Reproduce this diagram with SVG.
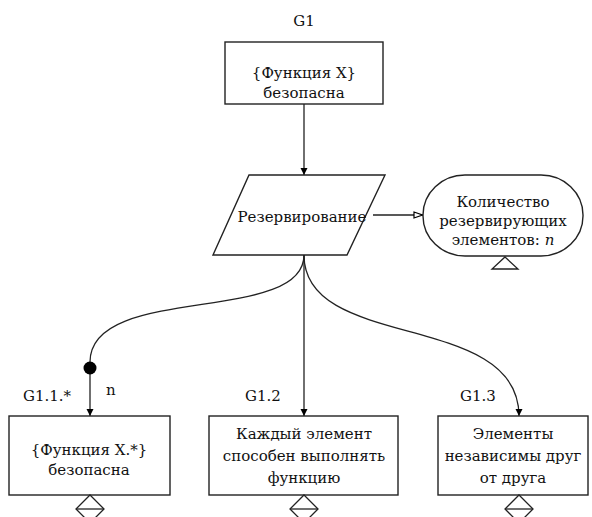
<svg xmlns="http://www.w3.org/2000/svg" width="592" height="517" viewBox="0 0 592 517">
  <defs>
    <marker id="arrow" viewBox="0 0 10 10" refX="10" refY="5" markerWidth="7" markerHeight="8" markerUnits="userSpaceOnUse" orient="auto">
      <path d="M0,0 L10,5 L0,10 Z" fill="#000"/>
    </marker>
    <marker id="open-arrow" viewBox="0 0 10 8" refX="10" refY="4" markerWidth="10" markerHeight="8" markerUnits="userSpaceOnUse" orient="auto">
      <path d="M1,1 L9.5,4 L1,7 Z" fill="#fff" stroke="#000" stroke-width="1.2"/>
    </marker>
  </defs>
  <style>
    .c { text-anchor: middle; }
    .shape { fill: #fff; stroke: #222; stroke-width: 1.4; }
    .edge { fill: none; stroke: #222; stroke-width: 1.3; }
    .deco { fill: #fff; stroke: #222; stroke-width: 1.3; }
  </style>
  <rect width="592" height="517" fill="#fff"/>

  <g font-family="'DejaVu Serif', serif" font-size="15" fill="#111">
  <!-- connectors -->
  <g id="connectors">
    <path class="edge" d="M304,104 L304,175" marker-end="url(#arrow)"/>
    <path class="edge" d="M373,215 L423,215" marker-end="url(#open-arrow)"/>
    <path class="edge" d="M304,255 C304,325 90,283 90,362"/>
    <path class="edge" d="M90,368 L90,416" marker-end="url(#arrow)"/>
    <circle cx="90" cy="368" r="6.5" fill="#000"/>
    <text x="106" y="395">n</text>
    <path class="edge" d="M304,255 L304,416" marker-end="url(#arrow)"/>
    <path class="edge" d="M304,255 C304,352 519,310 519,416" marker-end="url(#arrow)"/>
  </g>

  <!-- G1 goal -->
  <g id="G1">
    <text class="c" x="304" y="26">G1</text>
    <rect class="shape" x="225" y="42" width="158" height="62"/>
    <text class="c" x="304" y="78">{Функция X}</text>
    <text class="c" x="304" y="98">безопасна</text>
  </g>

  <!-- strategy -->
  <g id="strategy">
    <polygon class="shape" points="249,175 385,175 347,255 213,255"/>
    <text class="c" x="302" y="222">Резервирование</text>
  </g>

  <!-- context / assumption -->
  <g id="context">
    <rect class="shape" x="423" y="175" width="160" height="81" rx="42" ry="40"/>
    <text class="c" x="503" y="207">Количество</text>
    <text class="c" x="503" y="226">резервирующих</text>
    <text class="c" x="503" y="245">элементов: <tspan font-style="italic">n</tspan></text>
    <polygon class="deco" points="505,257 518,269 492,269"/>
  </g>

  <!-- G1.1.* -->
  <g id="G1.1">
    <text x="23" y="401">G1.1.*</text>
    <rect class="shape" x="9" y="416" width="161" height="79"/>
    <text class="c" x="89" y="455">{Функция X.*}</text>
    <text class="c" x="89" y="475">безопасна</text>
    <polygon class="deco" points="90,495 104,509 90,523 76,509"/>
    <line class="edge" x1="76" y1="509" x2="104" y2="509"/>
  </g>

  <!-- G1.2 -->
  <g id="G1.2">
    <text x="245" y="401">G1.2</text>
    <rect class="shape" x="209" y="416" width="189" height="79"/>
    <text class="c" x="304" y="439">Каждый элемент</text>
    <text class="c" x="304" y="461">способен выполнять</text>
    <text class="c" x="304" y="483">функцию</text>
    <polygon class="deco" points="304,495 318,509 304,523 290,509"/>
    <line class="edge" x1="290" y1="509" x2="318" y2="509"/>
  </g>

  <!-- G1.3 -->
  <g id="G1.3">
    <text x="460" y="401">G1.3</text>
    <rect class="shape" x="438" y="416" width="150" height="79"/>
    <text class="c" x="513" y="439">Элементы</text>
    <text class="c" x="513" y="461">независимы друг</text>
    <text class="c" x="513" y="483">от друга</text>
    <polygon class="deco" points="519,495 533,509 519,523 505,509"/>
    <line class="edge" x1="505" y1="509" x2="533" y2="509"/>
  </g>
  </g>
</svg>
